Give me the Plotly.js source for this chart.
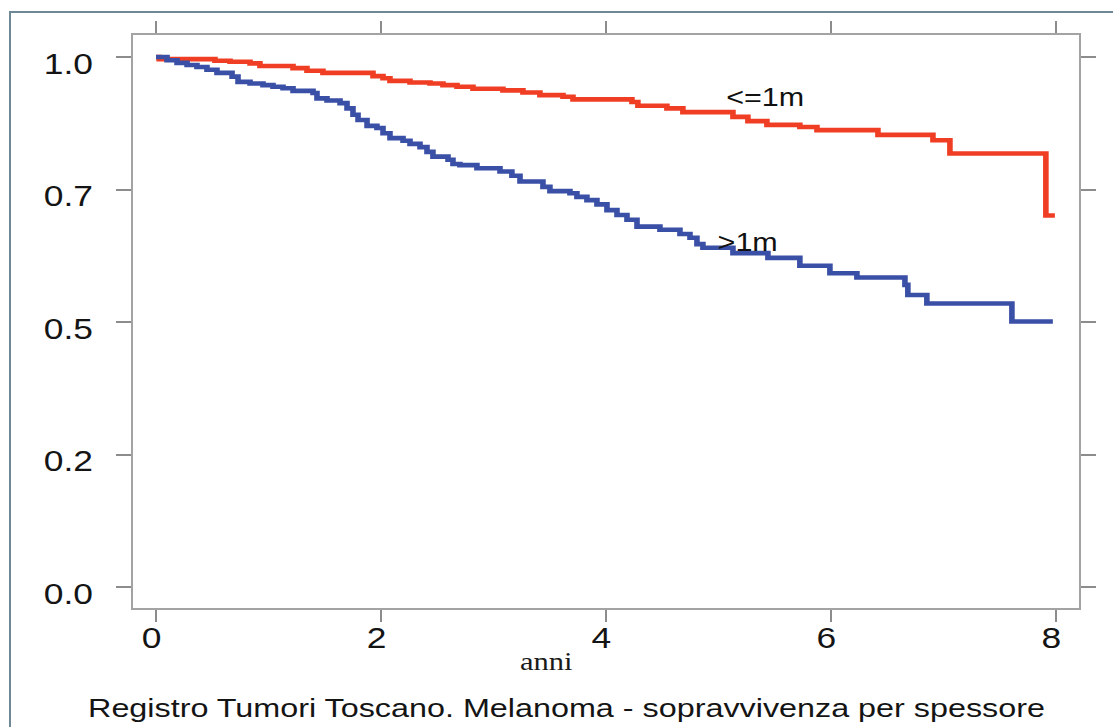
<!DOCTYPE html>
<html>
<head>
<meta charset="utf-8">
<script src="https://cdn.plot.ly/plotly-3.0.1.min.js"></script>
<style>
  html, body { margin: 0; padding: 0; background: #fff; overflow: hidden; width: 1113px; height: 727px; }
  #frame { position: absolute; left: 9px; top: 11px; width: 1200px; height: 800px;
           border-left: 2px solid #6f8896; border-top: 2px solid #6f8896; box-sizing: border-box; }
  #wrap { position: absolute; left: 0; top: 0; width: 912px; height: 727px;
          transform: scaleX(1.2204); transform-origin: 0 0; }
</style>
</head>
<body>
<div id="frame"></div>
<div id="wrap"></div>
<script>
// Kaplan-Meier survival
const redTime = [0, 0.028, 0.524, 0.658, 0.836, 0.924, 1.218, 1.342, 1.484, 1.929, 2.018, 2.080, 2.258, 2.436, 2.551, 2.676, 2.818, 3.084, 3.262, 3.413, 3.618, 3.707, 4.231, 4.284, 4.542, 4.684, 5.129, 5.262, 5.431, 5.724, 5.876, 6.418, 6.907, 7.058, 7.911, 7.991];
const redSurv = [1.000, 0.996, 0.993, 0.991, 0.988, 0.983, 0.979, 0.974, 0.970, 0.964, 0.960, 0.955, 0.952, 0.950, 0.947, 0.944, 0.940, 0.937, 0.933, 0.928, 0.925, 0.920, 0.915, 0.908, 0.903, 0.896, 0.887, 0.879, 0.872, 0.868, 0.862, 0.853, 0.843, 0.818, 0.701, 0.701];

const blueTime = [0, 0.098, 0.187, 0.276, 0.364, 0.453, 0.542, 0.676, 0.729, 0.836, 0.951, 1.040, 1.129, 1.218, 1.396, 1.431, 1.520, 1.636, 1.698, 1.751, 1.796, 1.876, 1.964, 2.018, 2.080, 2.196, 2.258, 2.347, 2.409, 2.462, 2.596, 2.640, 2.702, 2.853, 3.058, 3.164, 3.236, 3.440, 3.502, 3.680, 3.742, 3.831, 3.920, 4.009, 4.098, 4.187, 4.276, 4.480, 4.658, 4.747, 4.809, 4.862, 5.129, 5.440, 5.724, 5.991, 6.231, 6.658, 6.684, 6.853, 7.609, 7.973];
const blueSurv = [1.000, 0.994, 0.989, 0.985, 0.981, 0.976, 0.970, 0.963, 0.953, 0.950, 0.947, 0.944, 0.941, 0.936, 0.932, 0.922, 0.918, 0.913, 0.903, 0.891, 0.881, 0.870, 0.866, 0.856, 0.847, 0.842, 0.836, 0.830, 0.821, 0.812, 0.806, 0.798, 0.796, 0.790, 0.784, 0.776, 0.765, 0.755, 0.747, 0.743, 0.736, 0.730, 0.722, 0.711, 0.702, 0.693, 0.680, 0.674, 0.666, 0.659, 0.647, 0.640, 0.630, 0.621, 0.606, 0.592, 0.584, 0.570, 0.551, 0.535, 0.501, 0.501];

const seriesNames = ["<=1m", ">1m"];
const xTickVals = [0, 2, 4, 6, 8];
const xTickText = ["0", "2", "4", "6", "8"];
const yTickVals = [0, 0.25, 0.5, 0.75, 1.0];
const yTickText = ["0.0", "0.2", "0.5", "0.7", "1.0"];
const xLabel = "anni";
const chartTitle = "Registro Tumori Toscano. Melanoma - sopravvivenza per spessore";

const sans = "Liberation Sans, Arial, Helvetica, sans-serif";
const xRange = [-0.2044, 8.204];
const yRange = [-0.0396, 1.0415];
// labels in the source sit slightly off their tick marks
const xLabelShift = -0.040;
const yLabelShift = -0.0123;

const tickFont = { family: sans, size: 29, color: "#141414" };
const axisCommon = {
  showline: true, mirror: "allticks", linecolor: "#a3a3a3", linewidth: 2,
  ticks: "outside", ticklen: 12, tickcolor: "#8c8c8c", tickwidth: 2,
  showgrid: false, zeroline: false, showticklabels: false
};
const labelAxis = {
  showline: false, mirror: false, ticks: "outside", ticklen: 12, tickwidth: 2,
  tickcolor: "rgba(0,0,0,0)", showgrid: false, zeroline: false, tickfont: tickFont
};

const traces = [
  { x: redTime, y: redSurv, name: seriesNames[0], mode: "lines",
    line: { shape: "hv", color: "#ef3e24", width: 4.6 } },
  { x: blueTime, y: blueSurv, name: seriesNames[1], mode: "lines",
    line: { shape: "hv", color: "#3a4fa6", width: 4.6 } },
  { x: [], y: [], xaxis: "x2", yaxis: "y2", mode: "lines", hoverinfo: "skip" }
];

const layout = {
  width: 912, height: 727,
  margin: { l: 109, r: 28, t: 35, b: 119 },
  paper_bgcolor: "rgba(0,0,0,0)", plot_bgcolor: "#ffffff",
  showlegend: false,
  title: { text: chartTitle, x: 0.509, xanchor: "center", xref: "container",
           y: 0.026, yanchor: "middle", yref: "container",
           font: { family: sans, size: 26.5, color: "#141414" } },
  xaxis: Object.assign({}, axisCommon, { range: xRange, tickvals: xTickVals }),
  yaxis: Object.assign({}, axisCommon, { range: yRange, tickvals: yTickVals }),
  xaxis2: Object.assign({}, labelAxis, { overlaying: "x", anchor: "y", side: "bottom", range: xRange,
           tickvals: xTickVals.map(v => v + xLabelShift), ticktext: xTickText, ticklabelstandoff: -8 }),
  yaxis2: Object.assign({}, labelAxis, { overlaying: "y", anchor: "x", side: "left", range: yRange,
           tickvals: yTickVals.map(v => v + yLabelShift), ticktext: yTickText, ticklabelstandoff: 14 }),
  annotations: [
    { x: 5.413, y: 0.925, xref: "x", yref: "y", text: seriesNames[0], showarrow: false,
      font: { family: sans, size: 25, color: "#111" }, xanchor: "center", yanchor: "middle" },
    { x: 5.262, y: 0.651, xref: "x", yref: "y", text: seriesNames[1], showarrow: false,
      font: { family: sans, size: 25, color: "#111" }, xanchor: "center", yanchor: "middle" },
    { x: 0.437, y: -0.093, xref: "paper", yref: "paper", text: xLabel, showarrow: false,
      font: { family: "Liberation Serif, Times New Roman, serif", size: 25, color: "#1a1a1a" },
      xanchor: "center", yanchor: "middle" }
  ]
};

Plotly.newPlot("wrap", traces, layout, { displayModeBar: false, staticPlot: true });
</script>
</body>
</html>
